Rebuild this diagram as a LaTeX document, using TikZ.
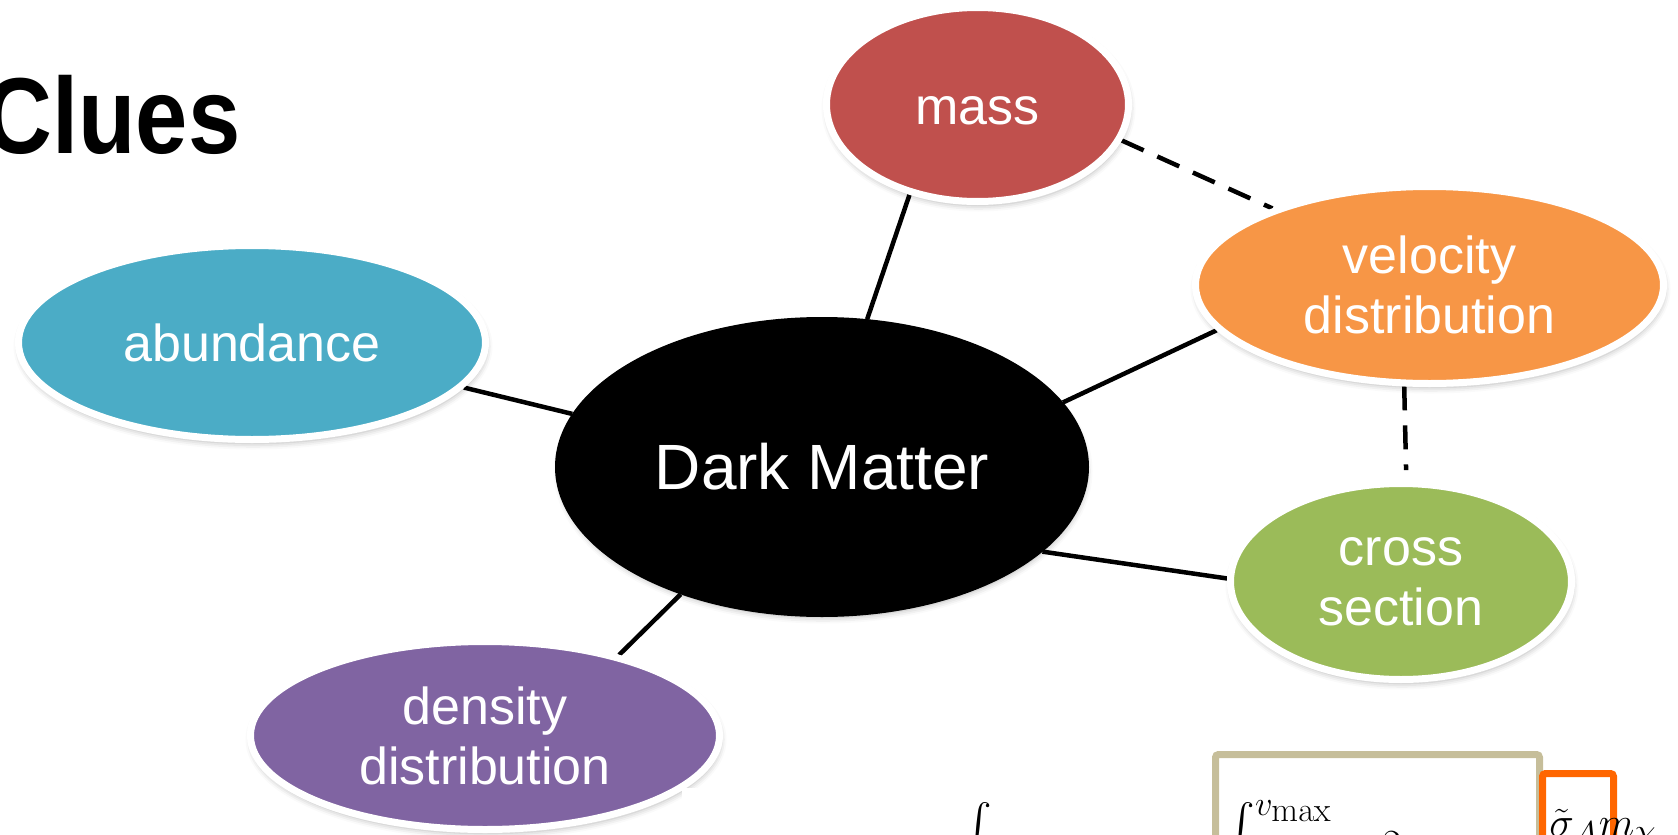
\documentclass[tikz,border=0pt]{standalone}
\usepackage{amsmath}
\usepackage[no-math]{fontspec}
\newfontfamily\arialf{Liberation Sans}
\usetikzlibrary{shapes.geometric,shadows.blur}
\DeclareMathSizes{22}{22}{17}{17}
\definecolor{massc}{HTML}{C0504D}
\definecolor{velc}{HTML}{F79646}
\definecolor{abuc}{HTML}{4BACC6}
\definecolor{crossc}{HTML}{9BBB59}
\definecolor{denc}{HTML}{8064A2}
\definecolor{tanc}{HTML}{C6BE9A}
\definecolor{orangec}{HTML}{FF6600}
\pgfdeclarelayer{bg}
\pgfsetlayers{bg,main}
\begin{document}
\begin{tikzpicture}[x=0.5pt,y=-0.5pt,
  bubble/.style={ellipse, draw=white, line width=3.5pt, inner sep=0pt, text=white,
    font={\arialf\fontsize{26}{30}\selectfont}, align=center,
    blur shadow={shadow xshift=0.5pt, shadow yshift=-2pt, shadow blur radius=3pt, shadow opacity=30}},
  link/.style={line width=2.25pt, draw=black},
  dlink/.style={link, dash pattern=on 12pt off 7.5pt},
  mathtext/.style={anchor=base west, inner sep=0pt, font={\fontsize{22}{26}\selectfont}},
  framebox/.style={line width=3.5pt, rounded corners=1.5pt}]
\useasboundingbox (0,0) rectangle (1678,835);
\clip (0,0) rectangle (1678,835);

\node[anchor=base west, inner sep=0pt, font={\arialf\bfseries\fontsize{54}{60}\selectfont}] (title) at (-16,153) {\scalebox{0.87}[1]{Clues}};

\node[bubble, fill=massc, minimum width=151pt, minimum height=97pt, text height=19.5pt, text depth=0pt] (mass) at (977.5,104.5) {mass};
\node[bubble, fill=velc, minimum width=234pt, minimum height=98.5pt] (vel) at (1429.5,285) {velocity\\distribution};
\node[bubble, fill=abuc, minimum width=233.5pt, minimum height=97pt] (abu) at (252,342.5) {abundance};
\node[bubble, fill=black, draw=black, minimum width=263.5pt, minimum height=146.5pt, font={\arialf\fontsize{32}{36}\selectfont}] (dm) at (822,467) {Dark Matter};
\node[bubble, fill=crossc, minimum width=170.5pt, minimum height=98pt] (cross) at (1401,581.5) {cross\\section};
\node[bubble, fill=denc, minimum width=234.5pt, minimum height=94pt] (den) at (485,735.5) {density\\distribution};

\begin{pgfonlayer}{bg}
\draw[link] (mass.233) -- (dm.73);
\draw[link] (abu.348) -- (dm.168);
\draw[link] (vel.192) -- (dm.15);
\draw[link] (cross.179) -- (dm.339);
\draw[link] (den.31) -- (dm.222);
\draw[dlink] (mass.346) -- (vel.154);
\draw[dlink, shorten >=5pt] (vel.256) -- (cross.87);
\end{pgfonlayer}

\fill[white] (682,788) rectangle (960,840);

\node[mathtext] (int1) at (964,836) {$\int$};
\draw[framebox, draw=tanc] (1215.5,870) |- (1539.5,754.5) -- (1539.5,870);
\node[mathtext] (int2) at (1227,836) {$\int^{v_{\max}}$};
\node[mathtext] (two) at (1382,858) {$2$};
\draw[framebox, draw=orangec] (1542.5,870) |- (1613.5,773.5) -- (1613.5,870);
\node[mathtext] (sig) at (1549,836) {$\tilde\sigma_A m_\chi$};
\end{tikzpicture}
\end{document}
